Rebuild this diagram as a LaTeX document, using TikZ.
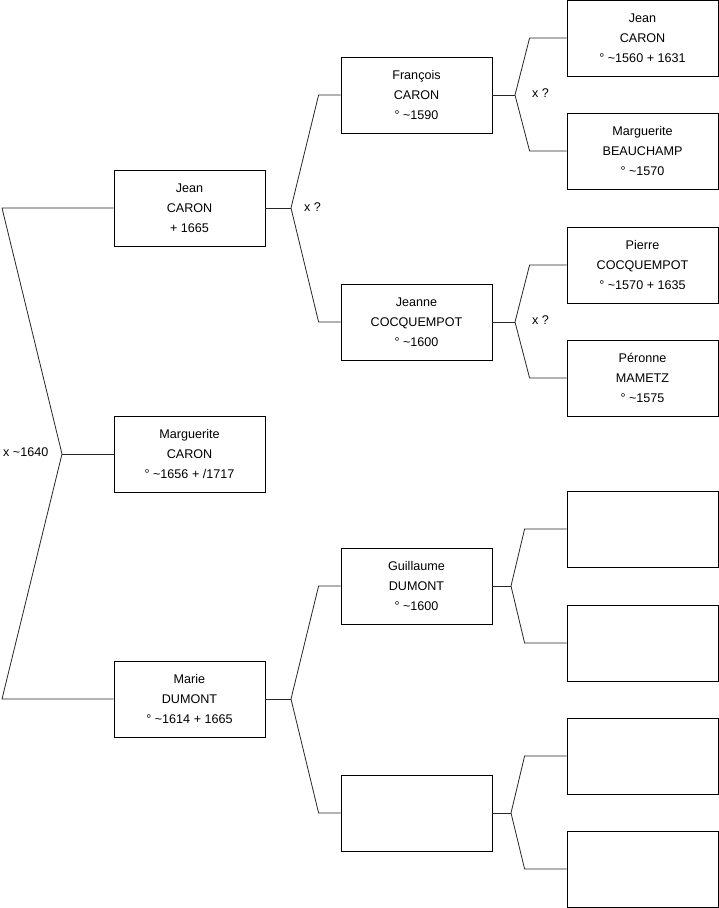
\documentclass[tikz,border=0pt]{standalone}
\usepackage{fontspec}
\setsansfont{Liberation Sans}
\usetikzlibrary{positioning,calc}

\begin{document}
\begin{tikzpicture}[
  x=1pt, y=-1pt,
  font=\sffamily\fontsize{12.6}{20}\selectfont,
  person/.style={
    draw=black,
    line width=0.8pt,
    minimum width=151pt,
    minimum height=76pt,
    inner sep=0pt,
    align=center
  },
  link/.style={
    draw=black!85,
    line width=0.8pt
  },
  union/.style={
    font=\sffamily\fontsize{12.6}{14}\selectfont,
    inner sep=0pt
  }
]
  \useasboundingbox (0,0) rectangle (719,908);

  % --- generation 1 ---
  \node[person] (jean1) at (189.5,208) {Jean\\CARON\\+ 1665};
  \node[person] (marguerite1) at (189.5,454) {Marguerite\\CARON\\° \textasciitilde1656 + /1717};
  \node[person] (marie) at (189.5,699) {Marie\\DUMONT\\° \textasciitilde1614 + 1665};

  % --- generation 2 ---
  \node[person] (francois) at (416.5,95) {François\\CARON\\° \textasciitilde1590};
  \node[person] (jeanne) at (416.5,322) {Jeanne\\COCQUEMPOT\\° \textasciitilde1600};
  \node[person] (guillaume) at (416.5,586) {Guillaume\\DUMONT\\° \textasciitilde1600};
  \node[person] (inconnu2) at (416.5,813) {};

  % --- generation 3 ---
  \node[person] (jean2) at (642.5,38) {Jean\\CARON\\° \textasciitilde1560 + 1631};
  \node[person] (beauchamp) at (642.5,151) {Marguerite\\BEAUCHAMP\\° \textasciitilde1570};
  \node[person] (pierre) at (642.5,265) {Pierre\\COCQUEMPOT\\° \textasciitilde1570 + 1635};
  \node[person] (peronne) at (642.5,378) {Péronne\\MAMETZ\\° \textasciitilde1575};
  \node[person] (inconnu3a) at (642.5,529) {};
  \node[person] (inconnu3b) at (642.5,643) {};
  \node[person] (inconnu3c) at (642.5,756) {};
  \node[person] (inconnu3d) at (642.5,869) {};

  % --- couple of generation 1 ---
  \coordinate (fork0) at (62,454);
  \coordinate (end0a) at (2,208);
  \coordinate (end0b) at (2,699);
  \draw[link] (jean1.west) -- (end0a) -- (fork0) -- (end0b) -- (marie.west);
  \draw[link] (fork0) -- (marguerite1.west);
  \node[union, anchor=west] (u0) at (3,452) {x \textasciitilde1640};

  % --- couples of generation 2 ---
  \coordinate (fork1) at (291,208);
  \draw[link] (jean1.east) -- (fork1);
  \draw[link] (francois.west) -- ++(-22,0) -- (fork1) -- ($(jeanne.west)+(-22,0)$) -- (jeanne.west);
  \node[union, right=13pt of fork1, yshift=1pt] (u1) {x ?};

  \coordinate (fork2) at (291,699);
  \draw[link] (marie.east) -- (fork2);
  \draw[link] (guillaume.west) -- ++(-22,0) -- (fork2) -- ($(inconnu2.west)+(-22,0)$) -- (inconnu2.west);

  % --- couples of generation 3 ---
  \coordinate (fork3) at (515,95);
  \draw[link] (francois.east) -- (fork3);
  \draw[link] (jean2.west) -- ++(-37,0) -- (fork3) -- ($(beauchamp.west)+(-37,0)$) -- (beauchamp.west);
  \node[union, right=17pt of fork3, yshift=2pt] (u3) {x ?};

  \coordinate (fork4) at (515,322);
  \draw[link] (jeanne.east) -- (fork4);
  \draw[link] (pierre.west) -- ++(-37,0) -- (fork4) -- ($(peronne.west)+(-37,0)$) -- (peronne.west);
  \node[union, right=17pt of fork4, yshift=2pt] (u4) {x ?};

  \coordinate (fork5) at (511,586);
  \draw[link] (guillaume.east) -- (fork5);
  \draw[link] (inconnu3a.west) -- ++(-42,0) -- (fork5) -- ($(inconnu3b.west)+(-42,0)$) -- (inconnu3b.west);

  \coordinate (fork6) at (511,813);
  \draw[link] (inconnu2.east) -- (fork6);
  \draw[link] (inconnu3c.west) -- ++(-42,0) -- (fork6) -- ($(inconnu3d.west)+(-42,0)$) -- (inconnu3d.west);

\end{tikzpicture}
\end{document}
